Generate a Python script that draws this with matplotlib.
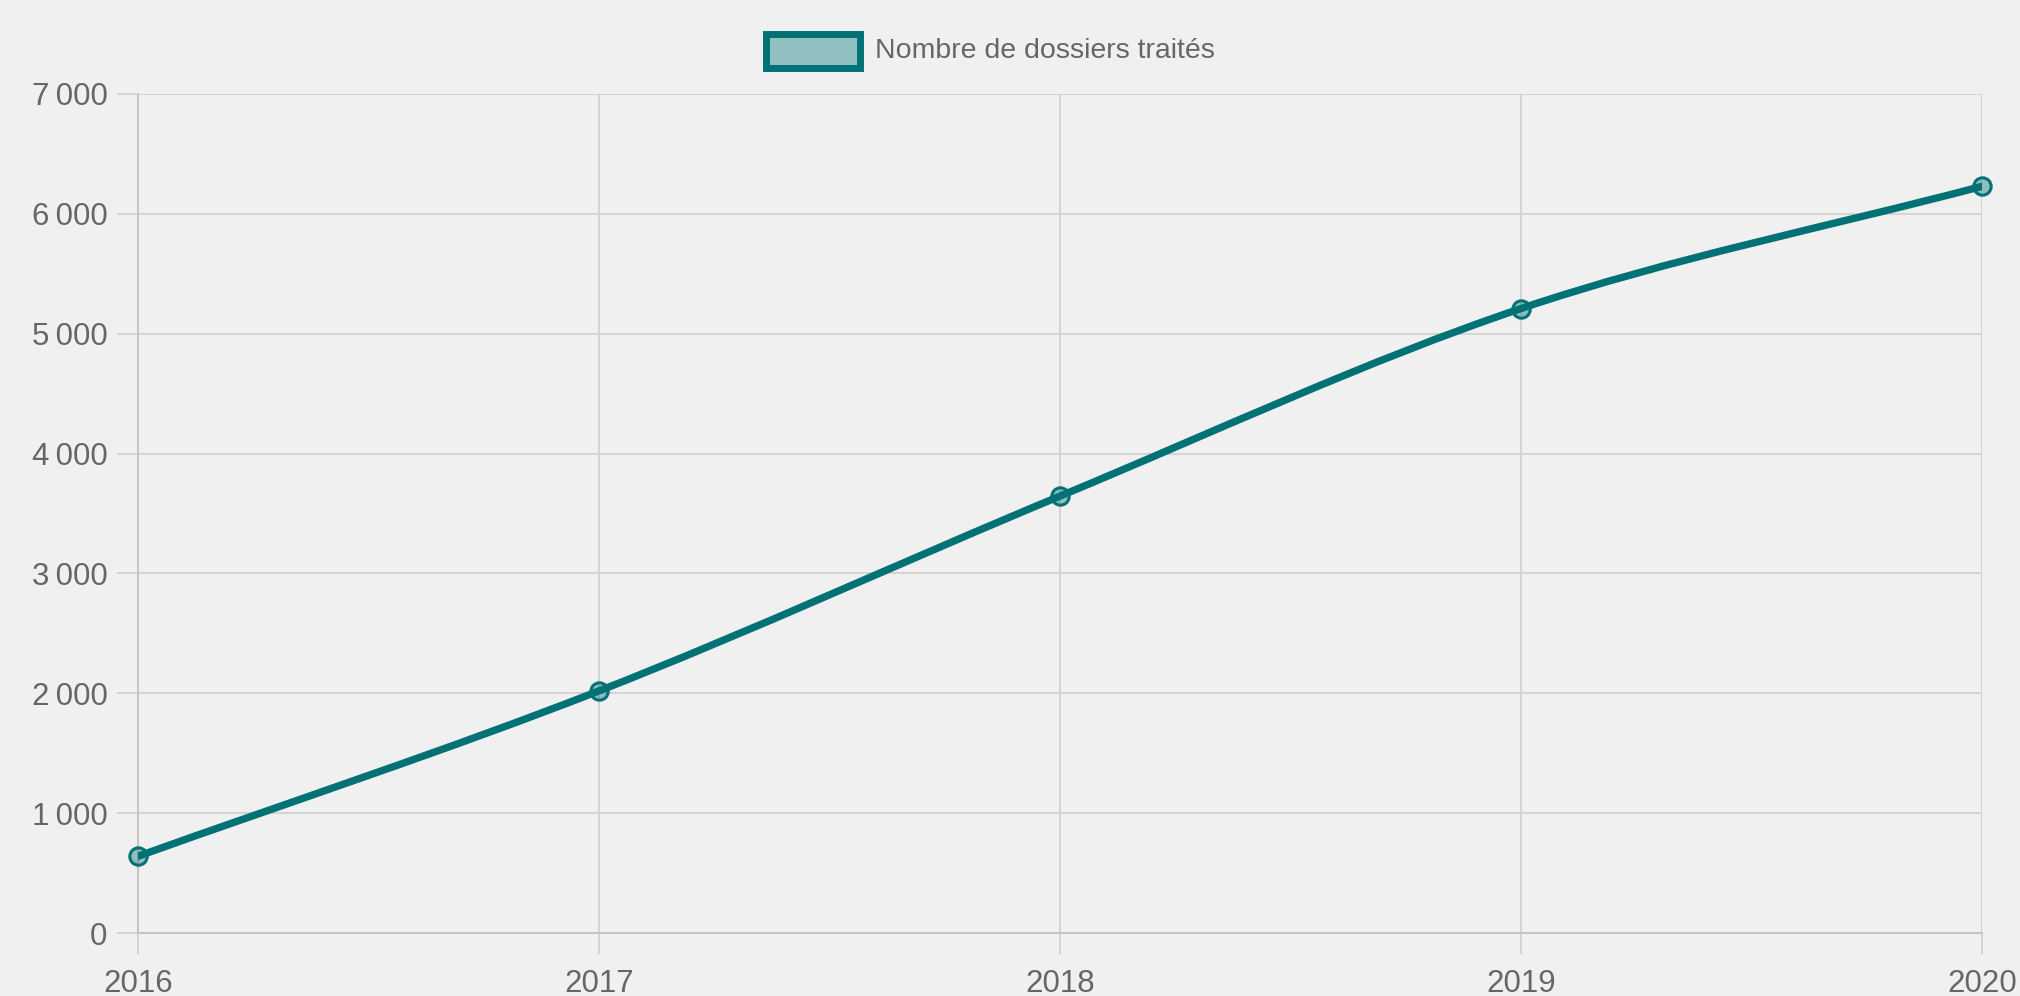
import matplotlib
matplotlib.use("Agg")
import matplotlib.pyplot as plt
from matplotlib.path import Path
from matplotlib.patches import PathPatch, Rectangle
import numpy as np

years = ["2016", "2017", "2018", "2019", "2020"]
values = [640, 2020, 3645, 5210, 6230]
y_ticks = [0, 1000, 2000, 3000, 4000, 5000, 6000, 7000]
series_label = "Nombre de dossiers traités"

BG = "#f0f0f0"
TEAL = "#007175"
FILL = "#92bfc0"
POINT_FILL = (0.0, 0.443, 0.459, 0.4)
TXT = "#666666"
GRID = "#d2d2d2"
AXIS = "#c4c4c4"
FONT = ["Liberation Sans", "DejaVu Sans"]
plt.rcParams['font.family'] = FONT

W, H = 2020, 996
fig = plt.figure(figsize=(W / 100, H / 100), dpi=100, facecolor=BG)
ax = fig.add_axes([138 / W, 1 - 933 / H, (1982 - 138) / W, (933 - 94) / H])
ax.set_facecolor(BG)

x = np.arange(len(years), dtype=float)
y = np.array(values, dtype=float)
ax.set_xlim(0, len(years) - 1)
ax.set_ylim(0, 7000)

ax.set_xticks(x)
ax.set_xticklabels(years)
ax.set_yticks(y_ticks)
ax.set_yticklabels([f"{v:,}".replace(",", "\u2009") for v in y_ticks])

ax.grid(True, color=GRID, linewidth=1.3)
ax.set_axisbelow(True)
for s in ["top", "right"]:
    ax.spines[s].set_visible(False)
for s in ["left", "bottom"]:
    ax.spines[s].set_color(AXIS)
    ax.spines[s].set_linewidth(1.4)
ax.tick_params(axis="both", length=15, width=1.3, color=GRID, labelcolor=TXT, labelsize=22.5)
ax.tick_params(axis="y", pad=7)
ax.tick_params(axis="x", pad=11)
for lab in ax.get_xticklabels() + ax.get_yticklabels():
    lab.set_family(FONT)

# Monotone cubic interpolation (Fritsch-Carlson, as Chart.js 'monotone')
n = len(x)
delta = np.diff(y) / np.diff(x)
m = np.zeros(n)
m[0] = delta[0]
m[-1] = delta[-1]
for i in range(1, n - 1):
    m[i] = 0 if delta[i - 1] * delta[i] <= 0 else (delta[i - 1] + delta[i]) / 2
for i in range(n - 1):
    if delta[i] == 0:
        m[i] = m[i + 1] = 0
        continue
    a = m[i] / delta[i]
    b = m[i + 1] / delta[i]
    sq = a * a + b * b
    if sq > 9:
        t = 3 / np.sqrt(sq)
        m[i] = t * a * delta[i]
        m[i + 1] = t * b * delta[i]
verts = [(x[0], y[0])]
codes = [Path.MOVETO]
for i in range(n - 1):
    dx = (x[i + 1] - x[i]) / 3
    verts += [(x[i] + dx, y[i] + m[i] * dx), (x[i + 1] - dx, y[i + 1] - m[i + 1] * dx),
              (x[i + 1], y[i + 1])]
    codes += [Path.CURVE4] * 3
ax.add_patch(PathPatch(Path(verts, codes), facecolor="none", edgecolor=TEAL,
                       linewidth=5.3, capstyle="round", joinstyle="round", zorder=3))
ax.plot(x, y, linestyle="none", marker="o", markersize=12.5,
        markerfacecolor=POINT_FILL, markeredgecolor=TEAL, markeredgewidth=2.2, zorder=4,
        clip_on=False)

# Legend (Chart.js style box)
fig.patches.append(Rectangle((766 / W, 1 - 68 / H), 94 / W, 34 / H, transform=fig.transFigure,
                             facecolor=FILL, edgecolor=TEAL, linewidth=5))
fig.text(875 / W, 1 - 51 / H, series_label, color=TXT, fontsize=20.5, va="center", ha="left",
         family=FONT)

fig.savefig("out.png", dpi=100, facecolor=BG)
